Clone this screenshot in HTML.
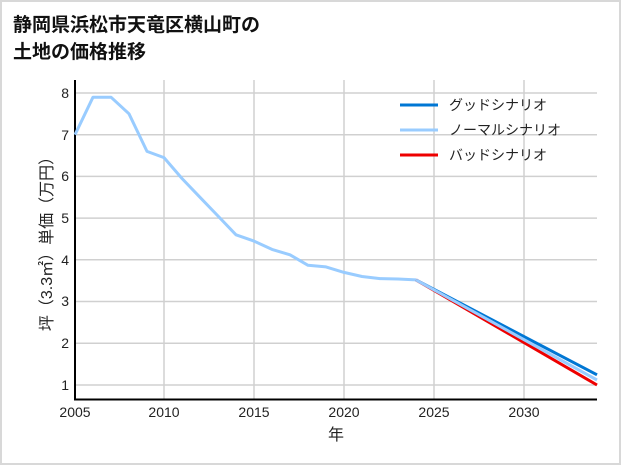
<!DOCTYPE html><html><head><meta charset="utf-8"><style>
body{margin:0;background:#fff}
.w{position:relative;width:621px;height:465px;box-sizing:border-box;border:2px solid #d8d8d8;overflow:hidden;font-family:"Liberation Sans","Noto Sans CJK JP",sans-serif}
</style></head><body><div class="w">
<svg width="621" height="465" style="position:absolute;left:-2px;top:-2px" font-family="Liberation Sans, Noto Sans CJK JP, sans-serif">
<text x="13" y="31" font-size="19" font-weight="bold" fill="#111">静岡県浜松市天竜区横山町の</text>
<text x="13" y="58" font-size="19" font-weight="bold" fill="#111">土地の価格推移</text>
<g stroke="#d0d0d0" stroke-width="1.5">
<line x1="164" y1="80" x2="164" y2="399"/><line x1="254" y1="80" x2="254" y2="399"/><line x1="344" y1="80" x2="344" y2="399"/><line x1="434" y1="80" x2="434" y2="399"/><line x1="524" y1="80" x2="524" y2="399"/>
<line x1="75" y1="93" x2="597" y2="93"/><line x1="75" y1="134.7" x2="597" y2="134.7"/><line x1="75" y1="176.4" x2="597" y2="176.4"/><line x1="75" y1="218.1" x2="597" y2="218.1"/><line x1="75" y1="259.8" x2="597" y2="259.8"/><line x1="75" y1="301.5" x2="597" y2="301.5"/><line x1="75" y1="343.2" x2="597" y2="343.2"/><line x1="75" y1="385" x2="597" y2="385"/>
</g>
<line x1="75" y1="80" x2="75" y2="400" stroke="#000" stroke-width="2"/>
<line x1="74" y1="399.5" x2="597" y2="399.5" stroke="#000" stroke-width="2"/>
<g font-size="14" fill="#222" text-anchor="end">
<text x="69" y="98">8</text><text x="69" y="140">7</text><text x="69" y="181">6</text><text x="69" y="223">5</text><text x="69" y="265">4</text><text x="69" y="306">3</text><text x="69" y="348">2</text><text x="69" y="390">1</text>
</g>
<g font-size="14" fill="#222" text-anchor="middle">
<text x="75" y="417">2005</text><text x="164" y="417">2010</text><text x="254" y="417">2015</text><text x="344" y="417">2020</text><text x="434" y="417">2025</text><text x="524" y="417">2030</text>
<text x="336" y="440" font-size="16">年</text>
</g>
<text transform="translate(52,240) rotate(-90)" font-size="16" fill="#222" text-anchor="middle">坪（3.3㎡）単価（万円）</text>
<polyline fill="none" stroke="#99ccff" stroke-width="3" stroke-linejoin="round" points="75,134.7 93,97.2 111,97.2 129,113.8 147,151.4 164,157.6 182,178.5 200,197.3 218,216 236,234.8 254,241.1 272,249.4 290,254.8 308,265.3 326,266.9 344,272.4 362,276.5 380,278.6 398,279 416,279.9"/>
<line x1="416" y1="279.9" x2="597" y2="374.8" stroke="#0077d4" stroke-width="3"/>
<line x1="416" y1="279.9" x2="597" y2="385" stroke="#ee0000" stroke-width="3"/>
<line x1="416" y1="279.9" x2="597" y2="380" stroke="#99ccff" stroke-width="3"/>
<line x1="400" y1="105" x2="438" y2="105" stroke="#0077d4" stroke-width="3"/>
<line x1="400" y1="130" x2="438" y2="130" stroke="#99ccff" stroke-width="3"/>
<line x1="400" y1="155" x2="438" y2="155" stroke="#ee0000" stroke-width="3"/>
<g font-size="14" fill="#222"><text x="449" y="110">グッドシナリオ</text><text x="449" y="135">ノーマルシナリオ</text><text x="449" y="160">バッドシナリオ</text></g>
</svg></div></body></html>
